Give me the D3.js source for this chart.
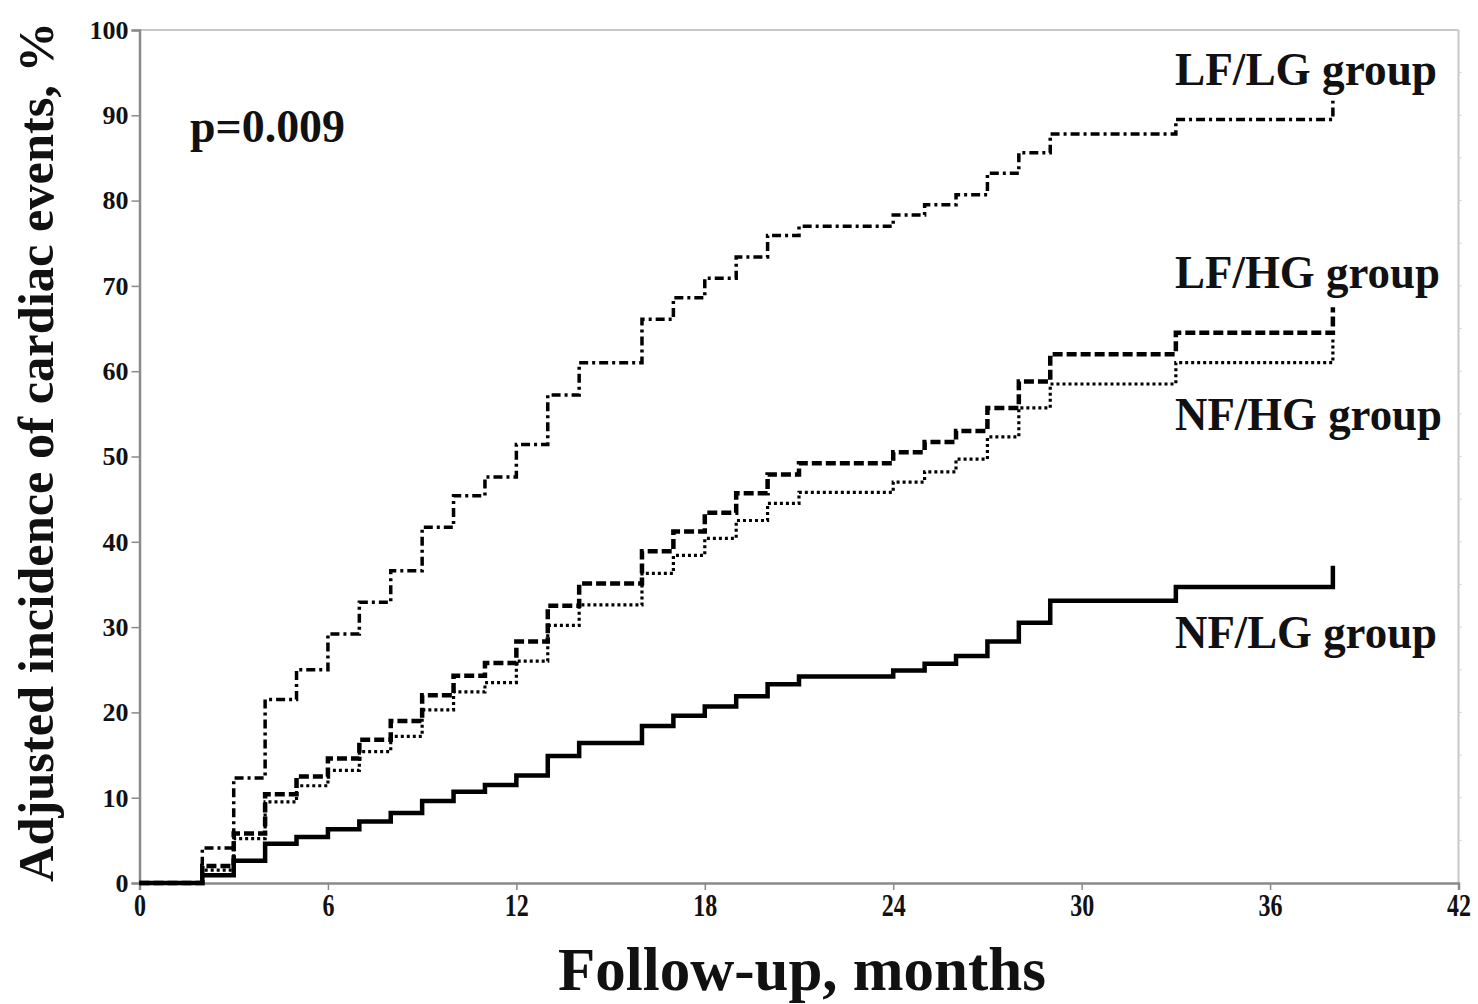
<!DOCTYPE html>
<html>
<head>
<meta charset="utf-8">
<script src="https://cdn.jsdelivr.net/npm/d3@7"></script>
<style>
  html, body { margin: 0; padding: 0; background: #fff; }
  svg { display: block; }
  text { font-family: "Liberation Serif", "DejaVu Serif", serif; font-weight: bold; fill: #111; }
</style>
</head>
<body>
<svg id="chart" width="1478" height="1004"></svg>
<script>
// Follow-up times (months) at which the adjusted incidence curves step
const months = [0, 2, 3, 4, 5, 6, 7, 8, 9, 10, 11, 12, 13, 14, 16, 17, 18, 19, 20, 21, 24, 25, 26, 27, 28, 29, 33, 38];

// Adjusted cumulative incidence of cardiac events (%) per group
const lfLg = [0, 4.1, 12.3, 21.5, 25.0, 29.2, 32.9, 36.6, 41.7, 45.4, 47.6, 51.4, 57.2, 61.0, 66.1, 68.6, 70.9, 73.4, 75.9, 77.0, 78.3, 79.5, 80.7, 83.2, 85.6, 87.8, 89.5, 91.7];
const lfHg = [0, 2.0, 5.8, 10.4, 12.5, 14.6, 16.8, 19.0, 22.0, 24.3, 25.8, 28.3, 32.5, 35.1, 38.9, 41.2, 43.4, 45.7, 47.9, 49.2, 50.5, 51.7, 53.0, 55.7, 58.8, 62.0, 64.5, 67.5];
const nfHg = [0, 1.5, 5.2, 9.5, 11.4, 13.2, 15.4, 17.2, 20.3, 22.4, 23.5, 26.0, 30.2, 32.6, 36.3, 38.4, 40.4, 42.5, 44.5, 45.8, 47.0, 48.2, 49.7, 52.3, 55.7, 58.5, 61.0, 64.0];
const nfLg = [0, 0.9, 2.6, 4.6, 5.4, 6.3, 7.2, 8.2, 9.6, 10.7, 11.5, 12.6, 14.9, 16.4, 18.4, 19.6, 20.7, 21.9, 23.3, 24.2, 24.9, 25.7, 26.6, 28.3, 30.5, 33.1, 34.7, 37.2];

const groupNames = ["LF/LG group", "LF/HG group", "NF/HG group", "NF/LG group"];
const xTicks = [0, 6, 12, 18, 24, 30, 36, 42];
const yTicks = [0, 10, 20, 30, 40, 50, 60, 70, 80, 90, 100];
const pLabel = "p=0.009";
const xTitle = "Follow-up, months";
const yTitle = "Adjusted incidence of cardiac events, %";

const svg = d3.select("#chart");

const x = d3.scaleLinear().domain([0, 42]).range([139.5, 1458.5]);
const y = d3.scaleLinear().domain([0, 100]).range([883, 30]);

// frame: light top and right edges
svg.append("line")
  .attr("x1", x(0)).attr("x2", x(42)).attr("y1", y(100)).attr("y2", y(100))
  .attr("stroke", "#c8c8c8").attr("stroke-width", 2);
svg.append("line")
  .attr("x1", x(42)).attr("x2", x(42)).attr("y1", y(100)).attr("y2", y(0))
  .attr("stroke", "#c8c8c8").attr("stroke-width", 2);
svg.append("g")
  .selectAll("line")
  .data(d3.range(5, 100, 5))
  .join("line")
  .attr("x1", x(42)).attr("x2", x(42) + 3)
  .attr("y1", d => y(d)).attr("y2", d => y(d))
  .attr("stroke", "#d0d0d0").attr("stroke-width", 1);

// axes
const yAxis = svg.append("g")
  .attr("transform", `translate(${x(0)},0)`)
  .call(d3.axisLeft(y).tickValues(yTicks).tickSize(8).tickPadding(3).tickFormat(d3.format("d")));
const xAxis = svg.append("g")
  .attr("transform", `translate(0,${y(0)})`)
  .call(d3.axisBottom(x).tickValues(xTicks).tickSize(7).tickPadding(3).tickFormat(d3.format("d")));

[yAxis, xAxis].forEach(g => {
  g.select(".domain").attr("stroke", "#8a8a8a").attr("stroke-width", 2.5);
  g.selectAll(".tick line").attr("stroke", "#8a8a8a").attr("stroke-width", 1.5);
  g.selectAll(".tick text")
    .attr("fill", "#222")
    .style("font-family", "'Liberation Serif', serif")
    .style("font-weight", "bold");
});
yAxis.selectAll(".tick text").style("font-size", "26px");
// month labels are set tall and narrow
xAxis.selectAll(".tick text")
  .style("font-size", "32px")
  .attr("textLength", d => String(d).length * 12)
  .attr("lengthAdjust", "spacingAndGlyphs");

// survival-style step curves
const series = [
  { values: lfLg, dash: "9,4,3,4", width: 3.5 },
  { values: lfHg, dash: "10,4", width: 4.5 },
  { values: nfHg, dash: "3,3", width: 3.2 },
  { values: nfLg, dash: null, width: 4.5 }
];

const line = d3.line()
  .curve(d3.curveStepAfter)
  .x(d => x(d[0]))
  .y(d => y(d[1]));

svg.append("g")
  .selectAll("path")
  .data(series)
  .join("path")
  .attr("d", s => line(months.map((m, i) => [m, s.values[i]])))
  .attr("fill", "none")
  .attr("stroke", "#000")
  .attr("stroke-width", s => s.width)
  .attr("stroke-dasharray", s => s.dash)
  .attr("stroke-linejoin", "miter")
  .attr("stroke-linecap", "butt");

// group labels at the right end of the curves
const labelBaselines = [85, 288, 430, 648];
const labelWidths = [262, 265, 267, 262];
svg.append("g")
  .selectAll("text")
  .data(groupNames)
  .join("text")
  .attr("x", 1175)
  .attr("y", (d, i) => labelBaselines[i])
  .attr("textLength", (d, i) => labelWidths[i])
  .attr("lengthAdjust", "spacingAndGlyphs")
  .style("font-size", "46px")
  .text(d => d);

// log-rank p value
svg.append("text")
  .attr("x", 190).attr("y", 142)
  .attr("textLength", 155)
  .attr("lengthAdjust", "spacingAndGlyphs")
  .style("font-size", "46px")
  .text(pLabel);

// axis titles
svg.append("text")
  .attr("x", 802).attr("y", 990)
  .attr("text-anchor", "middle")
  .attr("textLength", 488)
  .attr("lengthAdjust", "spacingAndGlyphs")
  .style("font-size", "62px")
  .text(xTitle);

svg.append("text")
  .attr("transform", "translate(53,452) rotate(-90)")
  .attr("text-anchor", "middle")
  .attr("textLength", 860)
  .attr("lengthAdjust", "spacingAndGlyphs")
  .style("font-size", "50px")
  .text(yTitle);
</script>
</body>
</html>
